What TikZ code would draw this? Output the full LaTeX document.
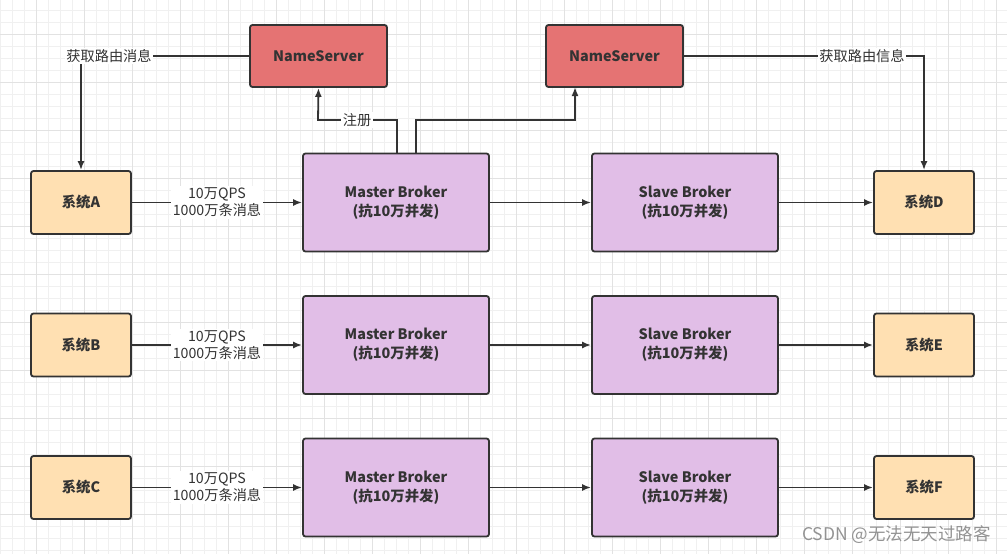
\documentclass[tikz,border=0pt]{standalone}
\usepackage{fontspec}
\setmainfont{Noto Sans CJK SC}
\usetikzlibrary{arrows.meta}
\definecolor{lineC}{HTML}{333333}
\definecolor{nsFill}{HTML}{E57373}
\definecolor{brFill}{HTML}{E1BEE7}
\definecolor{sysFill}{HTML}{FFE0B2}
\definecolor{gridMinor}{HTML}{F0F0F0}
\definecolor{gridMajor}{HTML}{E2E2E2}
\tikzset{
  x=1pt, y=-1pt,
  box/.style={draw=lineC, line width=1.8pt, rounded corners=2.5pt, text=lineC, font=\bfseries\fontsize{14.4}{19}\selectfont, align=center, inner sep=0pt},
  nsbox/.style={box, fill=nsFill, minimum width=137pt, minimum height=62pt},
  brbox/.style={box, fill=brFill, minimum width=186pt, minimum height=98pt, text depth=3pt},
  sysbox/.style={box, fill=sysFill, minimum width=100pt, minimum height=63pt},
  conn/.style={draw=lineC, line width=1.8pt, -{Latex[length=9pt,width=7pt]}},
  elabel/.style={fill=white, text=lineC, font=\fontsize{14.2}{17}\selectfont, align=center, inner sep=1.5pt},
}
\begin{document}
\begin{tikzpicture}
\useasboundingbox (0,0) rectangle (1007,554);
\fill[white] (0,0) rectangle (1007,554);
% grid
\begin{scope}
\clip (0,0) rectangle (1007,554);
\foreach \gx in {0.7,12.7,...,1010} \draw[gridMinor, line width=0.9pt] (\gx,0) -- (\gx,554);
\foreach \gy in {-1.7,10.3,...,560} \draw[gridMinor, line width=0.9pt] (0,\gy) -- (1007,\gy);
\foreach \gx in {-11.3,36.7,...,1010} \draw[gridMajor, line width=0.9pt] (\gx,0) -- (\gx,554);
\foreach \gy in {-13.7,34.3,...,560} \draw[gridMajor, line width=0.9pt] (0,\gy) -- (1007,\gy);
\end{scope}

% NameServers
\node[nsbox] (ns1) at (318.5,56) {NameServer};
\node[nsbox] (ns2) at (614.5,56) {NameServer};

% Row A
\node[sysbox] (sA) at (81,202.5) {系统A};
\node[brbox] (mA) at (396,202.5) {Master Broker\\(抗10万并发)};
\node[brbox] (slA) at (685,202.5) {Slave Broker\\(抗10万并发)};
\node[sysbox] (sD) at (924,202.5) {系统D};
% Row B
\node[sysbox] (sB) at (81,345) {系统B};
\node[brbox] (mB) at (396,345) {Master Broker\\(抗10万并发)};
\node[brbox] (slB) at (685,345) {Slave Broker\\(抗10万并发)};
\node[sysbox] (sE) at (924,345) {系统E};
% Row C
\node[sysbox] (sC) at (81,487.5) {系统C};
\node[brbox] (mC) at (396,487.5) {Master Broker\\(抗10万并发)};
\node[brbox] (slC) at (685,487.5) {Slave Broker\\(抗10万并发)};
\node[sysbox] (sF) at (924,487.5) {系统F};

% horizontal flows
\foreach \s/\m/\sl/\t in {sA/mA/slA/sD, sB/mB/slB/sE, sC/mC/slC/sF}{
  \draw[conn] (\s.east) -- node[elabel]{10万QPS\\1000万条消息} (\m.west);
  \draw[conn] (\m.east) -- (\sl.west);
  \draw[conn] (\sl.east) -- (\t.west);
}

% NameServer routing
\coordinate (c1) at (81,56);
\draw[conn] (ns1.west) -- (c1) -- (sA.north);
\node[elabel] at (109,56) {获取路由消息};
\coordinate (c2) at (924,56);
\draw[conn] (ns2.east) -- (c2) -- (sD.north);
\node[elabel] at (862,56) {获取路由信息};

% registration
\coordinate (r1) at (397,153);
\coordinate (r2) at (416,153);
\draw[conn] (r1) |- (318,120) -- (ns1.south);
\node[elabel] at (357,120) {注册};
\draw[conn] (r2) |- (575,120) -- (575,87);

% watermark
\node[text=gray!85, font=\fontsize{17.5}{20}\selectfont, anchor=east, inner sep=0pt] (wm) at (991,535) {CSDN @无法无天过路客};
\end{tikzpicture}
\end{document}
